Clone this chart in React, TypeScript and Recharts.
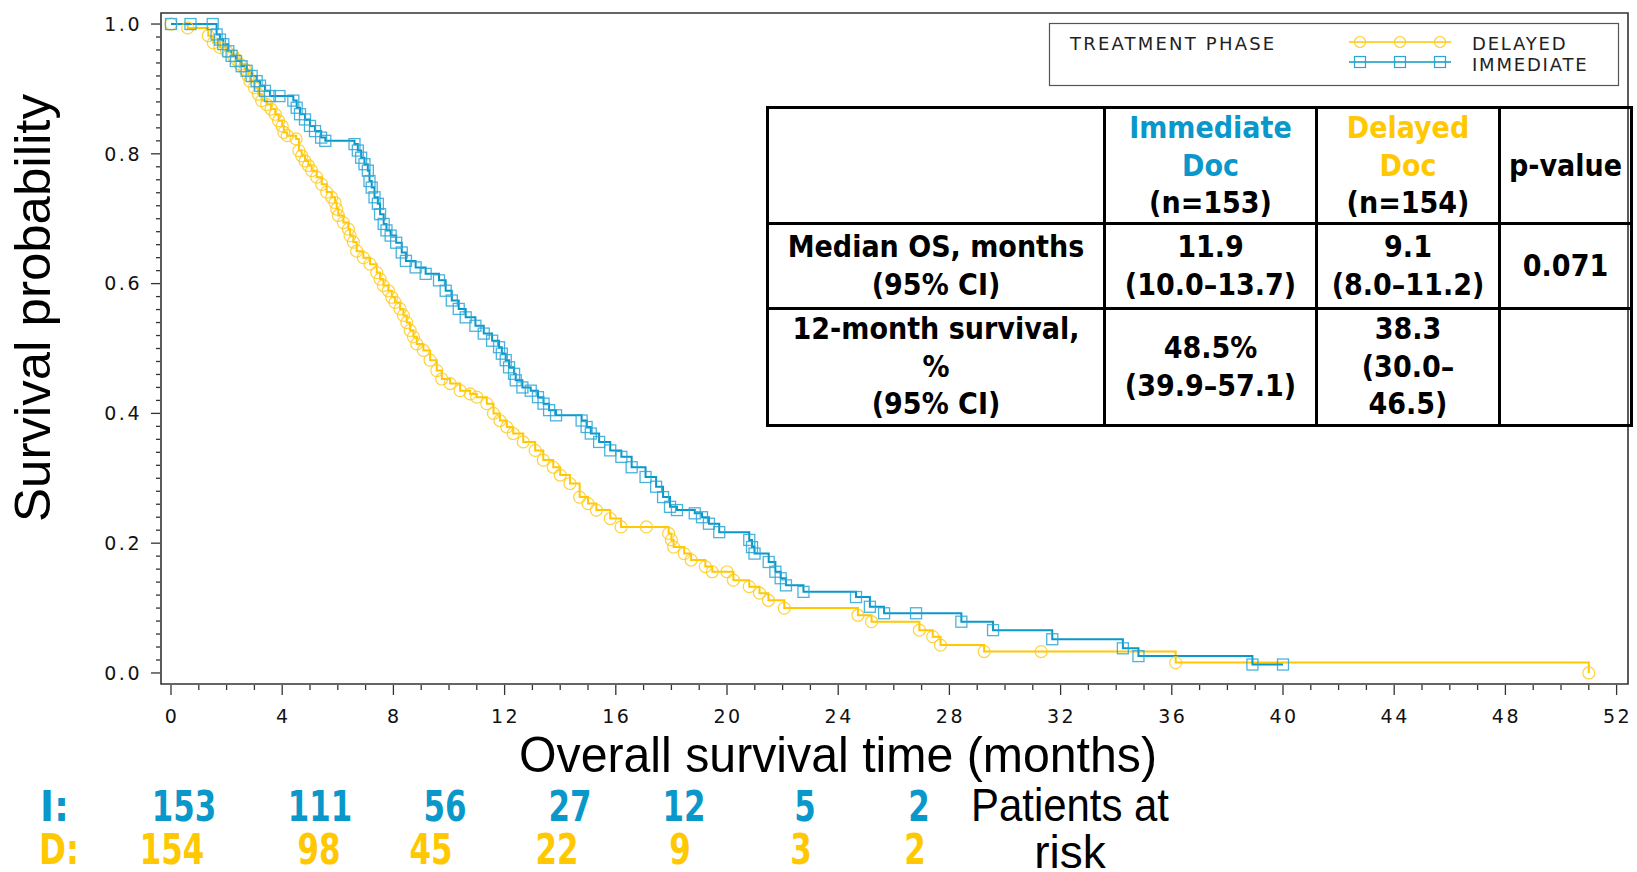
import React from "react";
import { Line, LineChart, ReferenceArea, XAxis, YAxis } from "recharts";

// Kaplan-Meier steps (time in months, survival after step)
const IMMEDIATE_T = [
  0, 0.7, 1.5, 1.64, 1.76, 1.88, 2.06, 2.18, 2.33, 2.54, 2.72, 2.9, 3.08, 3.2, 3.38, 3.56, 3.9,
  4.4, 4.52, 4.64, 4.82, 5.0, 5.18, 5.4, 5.55, 6.6, 6.72, 6.84, 6.96, 7.08, 7.14, 7.22, 7.32,
  7.44, 7.52, 7.65, 7.75, 7.9, 8.1, 8.3, 8.45, 8.8, 9.16, 9.64, 9.88, 10.1, 10.35, 10.6, 10.95,
  11.25, 11.55, 11.8, 11.9, 12.04, 12.16, 12.34, 12.4, 12.64, 12.94, 13.2, 13.4, 13.6, 13.85,
  14.77, 14.95, 15.1, 15.4, 15.8, 16.2, 16.57, 17.07, 17.45, 17.7, 17.95, 18.2, 18.84, 19.1,
  19.35, 19.72, 20.8, 20.9, 20.99, 21.5, 21.74, 21.93, 22.12, 22.75, 24.64, 25.14, 25.65, 26.8,
  28.43, 29.57, 31.7, 34.24, 34.8, 38.9, 40.0,
];
const IMMEDIATE_S = [
  1.0, 1.0, 1.0, 0.984, 0.976, 0.969, 0.958, 0.951, 0.943, 0.935, 0.928, 0.92, 0.912, 0.905,
  0.897, 0.889, 0.889, 0.882, 0.871, 0.861, 0.853, 0.843, 0.835, 0.825, 0.82, 0.815, 0.805,
  0.794, 0.784, 0.774, 0.758, 0.748, 0.733, 0.723, 0.707, 0.692, 0.682, 0.674, 0.663, 0.648,
  0.635, 0.625, 0.615, 0.605, 0.589, 0.574, 0.561, 0.548, 0.535, 0.523, 0.512, 0.502, 0.492,
  0.482, 0.471, 0.461, 0.451, 0.44, 0.435, 0.425, 0.415, 0.405, 0.397, 0.389, 0.379, 0.369,
  0.356, 0.343, 0.333, 0.317, 0.302, 0.287, 0.271, 0.256, 0.251, 0.246, 0.24, 0.23, 0.217,
  0.205, 0.194, 0.184, 0.171, 0.156, 0.146, 0.135, 0.125, 0.117, 0.102, 0.092, 0.092, 0.079,
  0.066, 0.052, 0.038, 0.026, 0.013, 0.013,
];
const DELAYED_T = [
  0, 0.6, 1.34, 1.52, 1.76, 2.0, 2.24, 2.36, 2.48, 2.66, 2.78, 2.84, 3.0, 3.14, 3.26, 3.44, 3.6,
  3.75, 3.87, 4.0, 4.06, 4.18, 4.5, 4.6, 4.7, 4.82, 4.94, 5.06, 5.24, 5.42, 5.6, 5.78, 5.9, 5.96,
  6.02, 6.2, 6.38, 6.44, 6.56, 6.68, 6.92, 7.16, 7.4, 7.52, 7.64, 7.82, 7.94, 8.06, 8.24, 8.36,
  8.48, 8.6, 8.72, 8.84, 9.08, 9.32, 9.56, 9.74, 10.04, 10.4, 10.76, 11.0, 11.36, 11.6, 11.83,
  12.08, 12.31, 12.67, 13.1, 13.39, 13.75, 14.0, 14.35, 14.7, 15.0, 15.3, 15.8, 16.19, 17.1,
  17.9, 18.0, 18.08, 18.46, 18.71, 19.22, 19.47, 20.0, 20.23, 20.8, 21.17, 21.49, 22.06, 24.71,
  25.2, 26.92, 27.4, 27.68, 29.25, 31.3, 36.14, 51.0,
];
const DELAYED_S = [
  1.0, 0.994, 0.982, 0.971, 0.964, 0.958, 0.951, 0.945, 0.938, 0.93, 0.92, 0.912, 0.902, 0.892,
  0.882, 0.876, 0.869, 0.861, 0.851, 0.843, 0.833, 0.828, 0.823, 0.805, 0.797, 0.789, 0.782,
  0.774, 0.764, 0.753, 0.741, 0.733, 0.725, 0.715, 0.705, 0.694, 0.684, 0.674, 0.664, 0.65,
  0.64, 0.63, 0.617, 0.607, 0.597, 0.589, 0.579, 0.571, 0.561, 0.551, 0.54, 0.528, 0.518, 0.507,
  0.497, 0.482, 0.466, 0.453, 0.446, 0.435, 0.43, 0.425, 0.415, 0.4, 0.389, 0.379, 0.369, 0.356,
  0.343, 0.328, 0.317, 0.305, 0.292, 0.271, 0.261, 0.251, 0.238, 0.225, 0.225, 0.215, 0.205,
  0.194, 0.184, 0.174, 0.164, 0.156, 0.156, 0.143, 0.133, 0.123, 0.112, 0.1, 0.089, 0.079,
  0.066, 0.056, 0.043, 0.033, 0.033, 0.016, 0,
];

const X_MAJOR = [0, 4, 8, 12, 16, 20, 24, 28, 32, 36, 40, 44, 48, 52];
const Y_MAJOR = [0, 0.2, 0.4, 0.6, 0.8, 1.0];

const AT_RISK_IMMEDIATE = [153, 111, 56, 27, 12, 5, 2];
const AT_RISK_DELAYED = [154, 98, 45, 22, 9, 3, 2];

const TABLE_ROWS = [
  { label: ["Median OS, months", "(95% CI)"], imm: ["11.9", "(10.0–13.7)"], del: ["9.1", "(8.0–11.2)"], p: "0.071" },
  { label: ["12-month survival,", "%", "(95% CI)"], imm: ["48.5%", "(39.9–57.1)"], del: ["38.3", "(30.0–", "46.5)"], p: "" },
];

const BLUE = "#0a97c9";
const BLUE_MARK = "#2aa6d6";
const YELLOW = "#ffc800";
const YELLOW_MARK = "#ffca1c";
const AXIS = "#333";

const IMM_X = [184, 320, 445, 570, 684, 805, 919];
const DEL_X = [172, 319, 431, 557, 680, 801, 915];

const immediateData = IMMEDIATE_T.map((t, i) => ({ t, s: IMMEDIATE_S[i] }));
const delayedData = DELAYED_T.map((t, i) => ({ t, s: DELAYED_S[i] }));

const xTicks = Array.from({ length: 53 }, (_, i) => i);
const yTicks = Array.from({ length: 51 }, (_, i) => i / 50);

const tickFont = { fontFamily: "DejaVu Sans", fontSize: 19, letterSpacing: 2.5, fill: "#111" };

function XTick({ x, y, payload }: any) {
  const v = payload.value;
  const major = X_MAJOR.includes(v);
  return (
    <g>
      <line x1={x} x2={x} y1={y + 1} y2={y + (major ? 11 : 6)} stroke={AXIS} strokeWidth={1.3} />
      {major && (
        <text x={x + 1} y={y + 39} textAnchor="middle" {...tickFont}>
          {v}
        </text>
      )}
    </g>
  );
}

function YTick({ x, y, payload }: any) {
  const v = payload.value;
  const major = Y_MAJOR.some((m) => Math.abs(m - v) < 1e-6);
  return (
    <g>
      <line x1={x - 1} x2={x - (major ? 10 : 5)} y1={y} y2={y} stroke={AXIS} strokeWidth={1.3} />
      {major && (
        <text x={x - 19} y={y} dy="0.36em" textAnchor="end" {...tickFont}>
          {v.toFixed(1)}
        </text>
      )}
    </g>
  );
}

const SquareDot = (props: any) => {
  const { cx, cy, index } = props;
  return (
    <rect key={`sq-${index}`} x={cx - 5.5} y={cy - 5.5} width={11} height={11} fill="none" stroke={BLUE_MARK} strokeWidth={1.3} strokeOpacity={0.85} />
  );
};

const CircleDot = (props: any) => {
  const { cx, cy, index } = props;
  return <circle key={`ci-${index}`} cx={cx} cy={cy} r={6} fill="none" stroke={YELLOW_MARK} strokeWidth={1.2} strokeOpacity={0.85} />;
};

const cellStyle: React.CSSProperties = {
  border: "3px solid #000",
  textAlign: "center",
  verticalAlign: "middle",
  padding: 0,
  whiteSpace: "nowrap",
};

function Lines({ items }: { items: string[] }) {
  return (
    <>
      {items.map((s, i) => (
        <React.Fragment key={i}>
          {i > 0 && <br />}
          {s}
        </React.Fragment>
      ))}
    </>
  );
}

export default function App() {
  const riskFont = { fontFamily: "DejaVu Sans", fontWeight: "bold" as const, fontSize: 42 };
  const legendFont = { fontFamily: "DejaVu Sans", fontSize: 18, letterSpacing: 2.2, fill: "#222" };
  return (
    <div style={{ position: "absolute", left: 0, top: 0, width: 1637, height: 872, background: "#fff", overflow: "hidden" }}>
      <LineChart width={1637} height={872} margin={{ top: 13, right: 9, left: 61, bottom: 148 }}>
        <XAxis
          type="number"
          dataKey="t"
          domain={[-0.36, 52.41]}
          allowDataOverflow
          ticks={xTicks}
          interval={0}
          tickSize={0}
          tickMargin={0}
          tickLine={false}
          axisLine={false}
          tick={<XTick />}
          height={40}
        />
        <YAxis
          type="number"
          domain={[-0.017, 1.017]}
          allowDataOverflow
          ticks={yTicks}
          interval={0}
          tickSize={0}
          tickMargin={0}
          tickLine={false}
          axisLine={false}
          tick={<YTick />}
          width={100}
        />
        <ReferenceArea x1={-0.36} x2={52.41} y1={-0.017} y2={1.017} fill="none" stroke={AXIS} strokeWidth={1.6} />
        <Line
          data={delayedData}
          dataKey="s"
          type="stepAfter"
          stroke={YELLOW}
          strokeWidth={2}
          dot={CircleDot}
          activeDot={false}
          isAnimationActive={false}
        />
        <Line
          data={immediateData}
          dataKey="s"
          type="stepAfter"
          stroke={BLUE}
          strokeWidth={2}
          dot={SquareDot}
          activeDot={false}
          isAnimationActive={false}
        />
      </LineChart>

      <svg width={1637} height={872} style={{ position: "absolute", left: 0, top: 0, pointerEvents: "none" }}>
        {/* legend */}
        <rect x={1049.5} y={23.5} width={569} height={62} fill="#fff" stroke="#555" strokeWidth={1.2} />
        <text x={1070} y={50} {...legendFont}>
          TREATMENT PHASE
        </text>
        <line x1={1349} x2={1451} y1={42} y2={42} stroke={YELLOW} strokeWidth={1.5} />
        {[1360, 1400, 1440].map((cx) => (
          <circle key={cx} cx={cx} cy={42} r={5.5} fill="none" stroke={YELLOW_MARK} strokeWidth={1.2} />
        ))}
        <line x1={1349} x2={1451} y1={62} y2={62} stroke={BLUE} strokeWidth={1.5} />
        {[1360, 1400, 1440].map((cx) => (
          <rect key={cx} x={cx - 5.5} y={56.5} width={11} height={11} fill="none" stroke={BLUE_MARK} strokeWidth={1.2} />
        ))}
        <text x={1472} y={50} {...legendFont} letterSpacing={1.8}>
          DELAYED
        </text>
        <text x={1472} y={70.5} {...legendFont} letterSpacing={1.8}>
          IMMEDIATE
        </text>

        {/* axis titles */}
        <text
          transform="translate(50,308) rotate(-90)"
          textAnchor="middle"
          fontFamily="Liberation Sans"
          fontSize={50}
          textLength={428}
          lengthAdjust="spacingAndGlyphs"
          fill="#000"
        >
          Survival probability
        </text>
        <text x={838} y={772} textAnchor="middle" fontFamily="Liberation Sans" fontSize={50} textLength={638} lengthAdjust="spacingAndGlyphs" fill="#000">
          Overall survival time (months)
        </text>

        {/* patients at risk */}
        <text x={40} y={821} {...riskFont} fill={BLUE} textLength={29} lengthAdjust="spacingAndGlyphs">
          I:
        </text>
        <text x={39} y={864} {...riskFont} fill={YELLOW} textLength={40} lengthAdjust="spacingAndGlyphs">
          D:
        </text>
        {AT_RISK_IMMEDIATE.map((n, i) => (
          <text key={`i${i}`} x={IMM_X[i]} y={821} textAnchor="middle" {...riskFont} fill={BLUE} textLength={21.5 * String(n).length} lengthAdjust="spacingAndGlyphs">
            {n}
          </text>
        ))}
        {AT_RISK_DELAYED.map((n, i) => (
          <text key={`d${i}`} x={DEL_X[i]} y={864} textAnchor="middle" {...riskFont} fill={YELLOW} textLength={21.5 * String(n).length} lengthAdjust="spacingAndGlyphs">
            {n}
          </text>
        ))}
        <text x={1070} y={821} textAnchor="middle" fontFamily="Liberation Sans" fontSize={46} textLength={198} lengthAdjust="spacingAndGlyphs" fill="#000">
          Patients at
        </text>
        <text x={1070} y={868} textAnchor="middle" fontFamily="Liberation Sans" fontSize={46} fill="#000">
          risk
        </text>
      </svg>

      <table
        style={{
          position: "absolute",
          left: 766,
          top: 106,
          width: 864,
          borderCollapse: "collapse",
          tableLayout: "fixed",
          fontFamily: "'DejaVu Sans Condensed', 'DejaVu Sans', sans-serif",
          fontWeight: "bold",
          fontSize: 30,
          lineHeight: "37.5px",
          color: "#000",
        }}
      >
        <colgroup>
          <col style={{ width: 337 }} />
          <col style={{ width: 212 }} />
          <col style={{ width: 183 }} />
          <col style={{ width: 132 }} />
        </colgroup>
        <tbody>
          <tr style={{ height: 114 }}>
            <td style={cellStyle} />
            <td style={cellStyle}>
              <span style={{ color: BLUE }}>
                Immediate
                <br />
                Doc
              </span>
              <br />
              (n=153)
            </td>
            <td style={cellStyle}>
              <span style={{ color: YELLOW }}>
                Delayed
                <br />
                Doc
              </span>
              <br />
              (n=154)
            </td>
            <td style={cellStyle}>p-value</td>
          </tr>
          {TABLE_ROWS.map((r, i) => (
            <tr key={i} style={{ height: i === 0 ? 85 : 117 }}>
              <td style={cellStyle}>
                <Lines items={r.label} />
              </td>
              <td style={cellStyle}>
                <Lines items={r.imm} />
              </td>
              <td style={cellStyle}>
                <Lines items={r.del} />
              </td>
              <td style={cellStyle}>{r.p}</td>
            </tr>
          ))}
        </tbody>
      </table>
    </div>
  );
}
